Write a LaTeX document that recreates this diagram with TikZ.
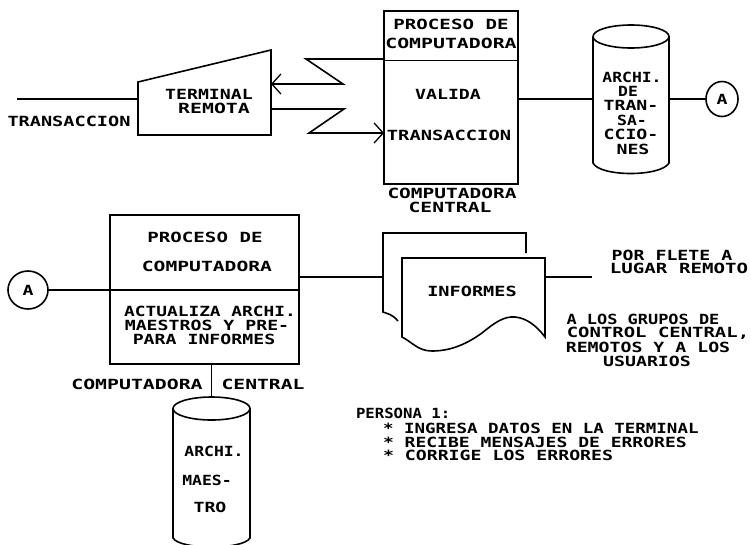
\documentclass[tikz,border=0pt]{standalone}
\usepackage{fontspec}
\usetikzlibrary{arrows.meta,shapes.geometric}
\newfontfamily\plotfont[FakeStretch=1.3]{DejaVu Sans Mono Bold}
\tikzset{
  wire/.style={line width=1.6pt,black},
  heavy/.style={line width=2.1pt,black},
  openarrow/.style={-{Straight Barb[length=9pt,width=20pt,line width=1.3pt]}},
  boxshape/.style={draw,line width=1.7pt,rectangle,inner sep=0pt,outer sep=0pt},
  ghost/.style={rectangle,inner sep=0pt,outer sep=0pt},
  conn/.style={draw,ellipse,line width=1.6pt,inner sep=0pt,outer sep=0pt},
  lbl/.style={font=\plotfont\fontsize{14pt}{14.5pt}\selectfont,inner sep=0pt,outer sep=0pt},
  lbll/.style={lbl,anchor=west},
  sx/.style={xscale=#1,transform shape},
}
\begin{document}
\begin{tikzpicture}[x=1pt,y=-1pt]
\useasboundingbox (0,0) rectangle (751,544);
\clip (0,0) rectangle (751,544);
% terminal
\node[ghost,minimum width=133pt,minimum height=85pt] (term) at (204.5,92.5) {};
\coordinate (termtl) at (138,82);
\draw[wire] (term.south west) -- (termtl) -- (term.north east) -- (term.south east) -- cycle;
\coordinate (tin) at (17,99);
\draw[wire] (tin) -- (tin -| term.west);
\node[lbl,sx=1.02] (ttrans) at (69,121) {TRANSACCION};
\node[lbl] (tt1) at (209,94) {TERMINAL};
\node[lbl,sx=1.09] (tt2) at (214,108) {REMOTA};
% process 1
\node[boxshape,minimum width=134pt,minimum height=173pt] (box1) at (451,97.5) {};
\coordinate (d1) at (451,60.5);
\draw[wire] (d1 -| box1.west) -- (d1 -| box1.east);
\node[lbl,sx=1.05] (p1) at (451,24) {PROCESO DE};
\node[lbl,sx=1.09] (p2) at (451,43) {COMPUTADORA};
\node[lbl] (p3) at (448,94) {VALIDA};
\node[lbl,sx=1.03] (p4) at (449,135) {TRANSACCION};
\node[lbl,sx=1.07] (p5) at (452,193) {COMPUTADORA};
\node[lbl,sx=1.08] (p6) at (450,207) {CENTRAL};
% zigzags
\coordinate (z1a) at (306,59);
\coordinate (z1b) at (343,84);
\draw[wire,openarrow] (z1a -| box1.west) -- (z1a) -- (z1b) -- (z1b -| term.east);
\coordinate (z2a) at (344,109);
\coordinate (z2b) at (309,133);
\draw[wire,openarrow] (z2a -| term.east) -- (z2a) -- (z2b) -- (z2b -| box1.west);
% transactions file
\node[ghost,minimum width=76pt,minimum height=148pt] (cyl1) at (631,99) {};
\draw[wire] (631,36.5) ellipse [x radius=38pt,y radius=11.5pt];
\draw[wire] (593,37) -- (593,163) .. controls (600,177) and (661,177) .. (669,163) -- (669,37);
\draw[wire] (cyl1.west -| box1.east) -- (cyl1.west);
\node[lbl,sx=.9] (c1) at (632,77) {ARCHI.};
\node[lbl,sx=.9] (c2) at (628,91) {DE};
\node[lbl] (c3) at (631,105) {TRAN-};
\node[lbl,sx=.9] (c4) at (632,120) {SA-};
\node[lbl] (c5) at (631,134) {CCIO-};
\node[lbl] (c6) at (633,149) {NES};
\node[conn,minimum width=32pt,minimum height=35pt] (a1) at (722,99) {};
\node[lbl] (a1t) at (722,99) {A};
\draw[wire] (cyl1.east) -- (a1.west);
% process 2
\node[boxshape,minimum width=189pt,minimum height=149pt] (box2) at (204.5,289.5) {};
\node[conn,minimum width=40pt,minimum height=38pt] (a2) at (28,290) {};
\node[lbl] (a2t) at (28,290) {A};
\draw[wire] (a2.east) -- (a2 -| box2.east);
\node[lbl,sx=1.05] (q1) at (205,237) {PROCESO DE};
\node[lbl,sx=1.08] (q2) at (207,266) {COMPUTADORA};
\node[lbl,sx=.98] (q3) at (210,311) {ACTUALIZA ARCHI.};
\node[lbl] (q4) at (207,325) {MAESTROS Y PRE-};
\node[lbl] (q5) at (204,339) {PARA INFORMES};
\node[lbl,sx=1.09] (q6) at (137,384) {COMPUTADORA};
\node[lbl,sx=1.08] (q7) at (263,384) {CENTRAL};
% master file
\node[ghost,minimum width=77pt,minimum height=147pt] (cyl2) at (211.5,470.5) {};
\draw[wire] (211.5,408.5) ellipse [x radius=38.5pt,y radius=11.5pt];
\draw[wire] (173,409) -- (173,538) .. controls (180,550) and (243,550) .. (250,538) -- (250,409);
\draw[wire] (cyl2.north |- box2.south) -- (cyl2.north);
\node[lbl,sx=.9] (m1) at (214,451) {ARCHI.};
\node[lbl,sx=.9] (m2) at (207,480) {MAES-};
\node[lbl] (m3) at (210,507) {TRO};
% documents
\node[ghost,minimum width=143pt,minimum height=88pt] (back) at (454.5,277) {};
\node[ghost,minimum width=143pt,minimum height=79pt] (front) at (473.5,297.5) {};
\draw[wire] (398,321) .. controls (392,314) and (388,314) .. (383,312) -- (back.north west) -- (back.north east) -- (526,253);
\draw[wire] (402,337) .. controls (412,342) and (418,351) .. (432,351) .. controls (452,351) and (468,343) .. (482,333) .. controls (494,323) and (504,316) .. (515,317) .. controls (526,318) and (536,325) .. (front.south east) -- (front.north east) -- (front.north west) -- cycle;
\coordinate (wo) at (592,277);
\draw[heavy] (wo -| box2.east) -- (wo -| back.west);
\draw[heavy] (wo -| front.east) -- (wo);
\node[lbl,sx=1.02] (i1) at (472,291) {INFORMES};
% notes
\node[lbl] (n1) at (672,255) {POR FLETE A};
\node[lbl,sx=1.05] (n2) at (679,268) {LUGAR REMOTO};
\node[lbl,sx=.93] (g1) at (643,319) {A LOS GRUPOS DE};
\node[lbl,sx=1.04] (g2) at (658,333) {CONTROL CENTRAL,};
\node[lbl] (g3) at (648,347) {REMOTOS Y A LOS};
\node[lbl] (g4) at (647,361) {USUARIOS};
\node[lbll,sx=.86] (e0) at (356,413) {PERSONA 1:};
\node[lbll,sx=.96] (e1) at (383,428) {* INGRESA DATOS EN LA TERMINAL};
\node[lbll,sx=.99] (e2) at (383,442) {* RECIBE MENSAJES DE ERRORES};
\node[lbll] (e3) at (383,455) {* CORRIGE LOS ERRORES};
\end{tikzpicture}
\end{document}
